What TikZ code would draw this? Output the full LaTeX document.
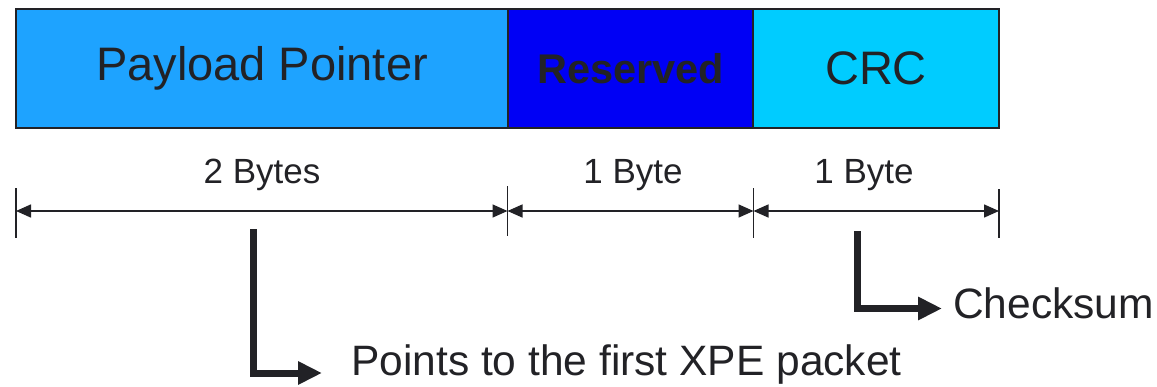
\documentclass[tikz,border=0pt]{standalone}
\usepackage{fontspec}
\setmainfont{Liberation Sans}
\usetikzlibrary{arrows.meta}
\definecolor{ptrblue}{RGB}{30,163,255}
\definecolor{resblue}{RGB}{0,0,245}
\definecolor{crcblue}{RGB}{0,204,255}
\definecolor{ink}{RGB}{34,34,38}
\tikzset{
  field/.style={draw=ink, line width=2.2pt, minimum height=119pt, inner sep=0pt, text=ink},
  dimline/.style={draw=ink, line width=1.5pt, {Triangle[length=15pt,width=13pt]}-{Triangle[length=15pt,width=13pt]}},
  tickline/.style={draw=ink, line width=1.2pt},
  sizelabel/.style={anchor=base, text=ink, font=\fontsize{35}{40}\selectfont, inner sep=0pt},
  bent/.style={draw=ink, line width=7pt, -{Triangle[length=24pt,width=22pt]}},
  note/.style={anchor=base west, text=ink, font=\fontsize{42.5}{48}\selectfont, inner sep=0pt}
}
\begin{document}
\begin{tikzpicture}[x=1pt,y=-1pt]
\useasboundingbox (0,0) rectangle (1157,386);

% packet fields
\node[field, fill=ptrblue, minimum width=492pt, font=\fontsize{47}{52}\selectfont] (ptr) at (262,68.5) {Payload Pointer};
\node[field, fill=resblue, minimum width=245pt, font=\fontsize{41.5}{46}\selectfont\bfseries] (res) at (630.5,68.5) {Reserved};
\node[field, fill=crcblue, minimum width=246pt, font=\fontsize{47}{52}\selectfont] (crc) at (876,68.5) {CRC};

% dimension ticks
\coordinate (t0) at (16,211);
\coordinate (t1) at (507.5,211);
\coordinate (t2) at (753.5,211);
\coordinate (t3) at (999,211);
\draw[tickline] (16,188) -- (16,238);
\draw[tickline] (507.5,186) -- (507.5,236);
\draw[tickline] (753.5,188) -- (753.5,238);
\draw[tickline] (999,189) -- (999,238);

% dimension lines
\draw[dimline] (t0) -- (t1);
\draw[dimline] (t1) -- (t2);
\draw[dimline] (t2) -- (t3);

% size labels
\node[sizelabel] (s0) at (262,183) {2 Bytes};
\node[sizelabel] (s1) at (633,183) {1 Byte};
\node[sizelabel] (s2) at (864,183) {1 Byte};

% explanatory notes
\node[note] (pnote) at (351,375) {Points to the first XPE packet};
\node[note] (cnote) at (953,318) {Checksum};

\coordinate (p0) at (253,229);
\coordinate (c0) at (857,231);
\draw[bent] (p0) |- ([xshift=-29pt]pnote.base west |- 0,373);
\draw[bent] (c0) |- ([xshift=-11pt]cnote.base west |- 0,308.5);
\end{tikzpicture}
\end{document}
